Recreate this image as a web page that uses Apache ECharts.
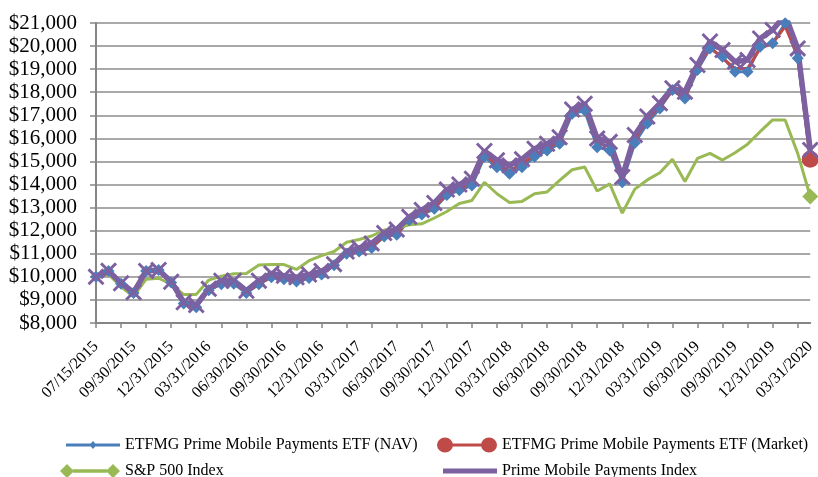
<!DOCTYPE html>
<html>
<head>
<meta charset="utf-8">
<script src="https://cdn.jsdelivr.net/npm/echarts@6/dist/echarts.min.js"></script>
<style>
  html, body { margin: 0; padding: 0; background: #fff; }
  #chart { width: 818px; height: 477px; }
</style>
</head>
<body>
<div id="chart"></div>
<script>
// dates (first point is the fund's inception, then month ends)
const dates = [
  '07/15/2015', '07/31/2015', '08/31/2015', '09/30/2015', '10/31/2015', '11/30/2015', '12/31/2015',
  '01/31/2016', '02/29/2016', '03/31/2016', '04/30/2016', '05/31/2016', '06/30/2016',
  '07/31/2016', '08/31/2016', '09/30/2016', '10/31/2016', '11/30/2016', '12/31/2016',
  '01/31/2017', '02/28/2017', '03/31/2017', '04/30/2017', '05/31/2017', '06/30/2017',
  '07/31/2017', '08/31/2017', '09/30/2017', '10/31/2017', '11/30/2017', '12/31/2017',
  '01/31/2018', '02/28/2018', '03/31/2018', '04/30/2018', '05/31/2018', '06/30/2018',
  '07/31/2018', '08/31/2018', '09/30/2018', '10/31/2018', '11/30/2018', '12/31/2018',
  '01/31/2019', '02/28/2019', '03/31/2019', '04/30/2019', '05/31/2019', '06/30/2019',
  '07/31/2019', '08/31/2019', '09/30/2019', '10/31/2019', '11/30/2019', '12/31/2019',
  '01/31/2020', '02/29/2020', '03/31/2020'
];

const navValues = [
  10000, 10250, 9700, 9300, 10250, 10300, 9750, 8850, 8680, 9420, 9680, 9700, 9300,
  9680, 9980, 9900, 9800, 9950, 10100, 10500, 11000, 11100, 11250, 11750, 11820,
  12450, 12700, 12950, 13550, 13750, 13960, 15200, 14750, 14470, 14750, 15200, 15480,
  15770, 17070, 17210, 15620, 15480, 14100, 15800, 16650, 17300, 18100, 17730, 18960,
  19900, 19540, 18890, 18890, 19970, 20120, 20990, 19470, 15200
];

const marketValues = [
  9950, 10260, 9710, 9310, 10260, 10310, 9760, 8800, 8720, 9430, 9700, 9720, 9330,
  9700, 10000, 9920, 9830, 9980, 10130, 10530, 11030, 11140, 11300, 11780, 11870,
  12500, 12760, 13000, 13600, 13830, 14050, 15300, 14850, 14600, 14880, 15300, 15580,
  15870, 17150, 17350, 15800, 15650, 14200, 15950, 16800, 17400, 18050, 17800, 19050,
  19950, 19470, 19030, 19030, 19900, 20120, 20850, 19600, 15100
];

const sp500Values = [
  10000, 10100, 9570, 9150, 9900, 9940, 9680, 9230, 9240, 9860, 10030, 10130, 10150,
  10510, 10540, 10530, 10320, 10700, 10920, 11100, 11500, 11620, 11770, 12030, 12100,
  12260, 12300, 12550, 12830, 13180, 13310, 14100, 13600, 13220, 13270, 13600, 13680,
  14180, 14640, 14760, 13720, 14030, 12760, 13800, 14200, 14510, 15100, 14130, 15130,
  15350, 15060, 15380, 15750, 16290, 16800, 16800, 15350, 13480
];

const indexValues = [
  10000, 10260, 9720, 9330, 10250, 10300, 9790, 8900, 8780, 9480, 9830, 9830, 9400,
  9830, 10150, 10050, 9980, 10100, 10250, 10550, 11100, 11250, 11450, 11900, 12050,
  12600, 12900, 13200, 13780, 14000, 14250, 15450, 15050, 14830, 15100, 15550, 15770,
  16050, 17250, 17500, 16000, 15850, 14330, 16150, 16950, 17520, 18170, 18020, 19180,
  20200, 19830, 19320, 19400, 20330, 20700, 21350, 19900, 15500
];

const seriesNames = [
  'ETFMG Prime Mobile Payments ETF (NAV)',
  'ETFMG Prime Mobile Payments ETF (Market)',
  'S&P 500 Index',
  'Prime Mobile Payments Index'
];

const FONT = 'Liberation Serif';
const BLUE = '#4A7EBB';
const RED = '#BE4B48';
const GREEN = '#98B954';
const PURPLE = '#7D60A0';

// filled X shape for the index markers
const xMark = 'path://M0,1.2 L1.2,0 L5,3.8 L8.8,0 L10,1.2 L6.2,5 L10,8.8 L8.8,10 L5,6.2 L1.2,10 L0,8.8 L3.8,5 Z';

// legend icons (path box is stretched to itemWidth x itemHeight)
const iconNav = 'path://M0,2.5 H28 V5.5 H0 Z M30,0 L34,4 L30,8 L26,4 Z M32,2.5 H60 V5.5 H32 Z';
const iconMarket = 'path://M0,8 a8,8 0 1,1 16,0 a8,8 0 1,1 -16,0 Z M15,6.5 H45 V9.5 H15 Z M44,8 a8,8 0 1,1 16,0 a8,8 0 1,1 -16,0 Z';
const iconSp = 'path://M7,1 L14,8 L7,15 L0,8 Z M13,6.2 H47 V9.8 H13 Z M53,1 L60,8 L53,15 L46,8 Z';
const iconIndex = 'path://M0,0 H60 V5 H0 Z';

// only the last point of the market and S&P lines carries a marker
function endMarker(values, size, symbol) {
  return values.map((v, i) => {
    if (i === values.length - 1) {
      return { value: v, symbol: symbol, symbolSize: size };
    }
    return { value: v, symbol: 'none' };
  });
}

function legendAt(name, icon, left, top, w, h) {
  return {
    data: [{ name: name, icon: icon }],
    left: left,
    top: top,
    padding: 0,
    itemWidth: w,
    itemHeight: h,
    symbolKeepAspect: false,
    selectedMode: false,
    textStyle: { fontFamily: FONT, fontSize: 16, color: '#000' }
  };
}

const chart = echarts.init(document.getElementById('chart'));

chart.setOption({
  animation: false,
  backgroundColor: '#fff',
  grid: { left: 96, right: 4, top: 23, bottom: 154 },
  legend: [
    legendAt(seriesNames[0], iconNav, 66, 437, 54, 8),
    legendAt(seriesNames[1], iconMarket, 437, 437, 60, 15),
    legendAt(seriesNames[2], iconSp, 60, 463, 60, 14),
    legendAt(seriesNames[3], iconIndex, 443, 463, 54, 5)
  ],
  xAxis: {
    type: 'category',
    data: dates,
    boundaryGap: false,
    axisLine: { lineStyle: { color: '#868686', width: 2 } },
    axisTick: { interval: 1, length: 5, lineStyle: { color: '#868686', width: 1.5 } },
    axisLabel: {
      interval: 2,
      rotate: 45,
      margin: 21,
      fontFamily: FONT,
      fontSize: 16,
      color: '#000'
    },
    splitLine: { show: false }
  },
  yAxis: {
    type: 'value',
    min: 8000,
    max: 21000,
    interval: 1000,
    axisLine: { show: true, lineStyle: { color: '#868686', width: 2 } },
    axisTick: { show: true, length: 6, lineStyle: { color: '#868686', width: 1.5 } },
    axisLabel: {
      margin: 19,
      fontFamily: FONT,
      fontSize: 21,
      color: '#000',
      formatter: v => '$' + v.toLocaleString('en-US')
    },
    splitLine: { lineStyle: { color: '#8C8C8C', width: 1.5 } }
  },
  series: [
    {
      name: seriesNames[0],
      type: 'line',
      data: navValues,
      symbol: 'diamond',
      symbolSize: 12,
      showAllSymbol: true,
      lineStyle: { color: BLUE, width: 3 },
      itemStyle: { color: BLUE }
    },
    {
      name: seriesNames[1],
      type: 'line',
      data: endMarker(marketValues, 17, 'circle'),
      showAllSymbol: true,
      lineStyle: { color: RED, width: 3 },
      itemStyle: { color: RED }
    },
    {
      name: seriesNames[2],
      type: 'line',
      data: endMarker(sp500Values, 16, 'diamond'),
      showAllSymbol: true,
      lineStyle: { color: GREEN, width: 3 },
      itemStyle: { color: GREEN }
    },
    {
      name: seriesNames[3],
      type: 'line',
      data: indexValues,
      symbol: xMark,
      symbolSize: 17,
      showAllSymbol: true,
      lineStyle: { color: PURPLE, width: 5.5 },
      itemStyle: { color: PURPLE }
    }
  ]
});
</script>
</body>
</html>
